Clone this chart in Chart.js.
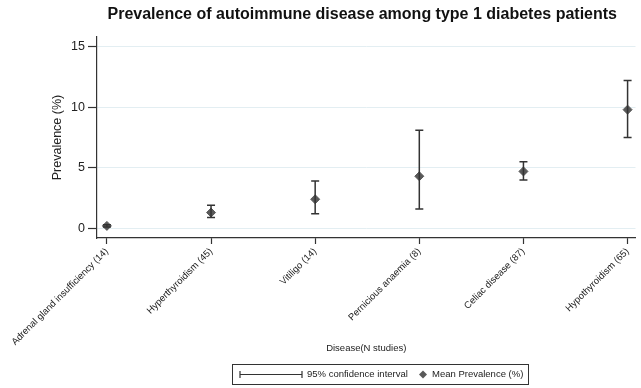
<!DOCTYPE html>
<html>
<head>
<meta charset="utf-8">
<script src="https://cdn.jsdelivr.net/npm/chart.js@4"></script>
<style>
  html, body { margin: 0; padding: 0; background: #fff; }
  #wrap { width: 641px; height: 388px; }
</style>
</head>
<body>
<div id="wrap"><canvas id="chart" width="641" height="388"></canvas></div>
<script>
// Dados
const diseases = ['Adrenal gland insufficiency (14)', 'Hyperthyroidism (45)', 'Vitiligo (14)',
                  'Pernicious anaemia (8)', 'Celiac disease (87)', 'Hypothyroidism (65)'];
const meanPrev = [0.2, 1.3, 2.4, 4.3, 4.7, 9.8];
const lowerCI = [0.1, 0.9, 1.2, 1.6, 4.0, 7.5];
const upperCI = [0.3, 1.9, 3.9, 8.1, 5.5, 12.2];
const yTicks = [0, 5, 10, 15];

const FONT = 'Liberation Sans, Arial, sans-serif';
const DARK = '#333333';

// Desenha as barras de erro com as escalas do gráfico
const errorBars = {
    id: 'errorBars',
    afterDatasetsDraw(chart) {
        const ctx = chart.ctx;
        const x = chart.scales.x, y = chart.scales.y;
        ctx.save();
        ctx.strokeStyle = DARK;
        ctx.lineWidth = 1.5;
        diseases.forEach((d, i) => {
            const px = x.getPixelForValue(i + 1);
            const top = y.getPixelForValue(upperCI[i]);
            const bot = y.getPixelForValue(lowerCI[i]);
            ctx.beginPath();
            ctx.moveTo(px, top); ctx.lineTo(px, bot);
            ctx.moveTo(px - 4, top); ctx.lineTo(px + 4, top);
            ctx.moveTo(px - 4, bot); ctx.lineTo(px + 4, bot);
            ctx.stroke();
        });
        ctx.restore();
    }
};

// Título e legenda em caixa
const extras = {
    id: 'extras',
    afterDraw(chart) {
        const ctx = chart.ctx;
        const area = chart.chartArea;
        const cx = (area.left + area.right) / 2;
        ctx.save();
        ctx.fillStyle = '#111';
        ctx.font = 'bold 16px ' + FONT;
        ctx.textAlign = 'center';
        ctx.textBaseline = 'middle';
        ctx.fillText('Prevalence of autoimmune disease among type 1 diabetes patients', cx - 4, 15);

        // caixa da legenda
        ctx.strokeStyle = DARK;
        ctx.lineWidth = 1;
        ctx.strokeRect(232.5, 364.5, 296, 20);
        const ly = 374.5;
        ctx.lineWidth = 1.2;
        ctx.beginPath();
        ctx.moveTo(240, ly); ctx.lineTo(302, ly);
        ctx.moveTo(240, ly - 3.5); ctx.lineTo(240, ly + 3.5);
        ctx.moveTo(302, ly - 3.5); ctx.lineTo(302, ly + 3.5);
        ctx.stroke();
        ctx.font = '9.5px ' + FONT;
        ctx.textAlign = 'left';
        ctx.fillStyle = '#222';
        ctx.fillText('95% confidence interval', 307, ly);
        ctx.fillStyle = '#595959';
        ctx.beginPath();
        ctx.moveTo(423, ly - 4); ctx.lineTo(427, ly); ctx.lineTo(423, ly + 4); ctx.lineTo(419, ly);
        ctx.closePath(); ctx.fill();
        ctx.fillStyle = '#222';
        ctx.fillText('Mean Prevalence (%)', 432, ly);
        ctx.restore();
    }
};

new Chart(document.getElementById('chart'), {
    type: 'scatter',
    data: {
        datasets: [{
            label: 'Mean Prevalence (%)',
            data: meanPrev.map((v, i) => ({ x: i + 1, y: v })),
            pointStyle: 'rectRot',
            pointRadius: 4.5,
            pointHoverRadius: 4.5,
            backgroundColor: '#595959',
            borderColor: '#595959'
        }]
    },
    options: {
        responsive: false,
        animation: false,
        layout: { padding: { left: 44, right: 0, top: 37, bottom: 26 } },
        plugins: { legend: { display: false }, tooltip: { enabled: false } },
        scales: {
            x: {
                type: 'linear',
                min: 0.905,
                max: 6.076,
                afterBuildTicks: s => { s.ticks = diseases.map((d, i) => ({ value: i + 1 })); },
                afterFit: s => { s.height = 124; },
                ticks: {
                    callback: (v) => diseases[v - 1],
                    minRotation: 45,
                    maxRotation: 45,
                    autoSkip: false,
                    padding: 2,
                    color: '#222',
                    font: { family: FONT, size: 9.5 }
                },
                grid: { drawOnChartArea: false, tickLength: 6, tickColor: DARK, tickWidth: 1.2 },
                border: { color: DARK, width: 1.2 },
                title: {
                    display: true,
                    text: 'Disease(N studies)',
                    color: '#222',
                    font: { family: FONT, size: 9.5 },
                    padding: { top: 0, bottom: 8 }
                }
            },
            y: {
                min: -0.8,
                max: 15.8,
                afterBuildTicks: s => { s.ticks = yTicks.map(v => ({ value: v })); },
                afterFit: s => { s.width = 53; },
                ticks: {
                    color: '#222',
                    padding: 3,
                    font: { family: FONT, size: 12.5 }
                },
                grid: { color: '#e3eef2', lineWidth: 1, tickLength: 9, tickColor: DARK, tickWidth: 1.2 },
                border: { color: DARK, width: 1.2 },
                title: {
                    display: true,
                    text: 'Prevalence (%)',
                    color: '#222',
                    font: { family: FONT, size: 12.5 },
                    padding: { top: 6, bottom: 0 }
                }
            }
        }
    },
    plugins: [errorBars, extras]
});
</script>
</body>
</html>
